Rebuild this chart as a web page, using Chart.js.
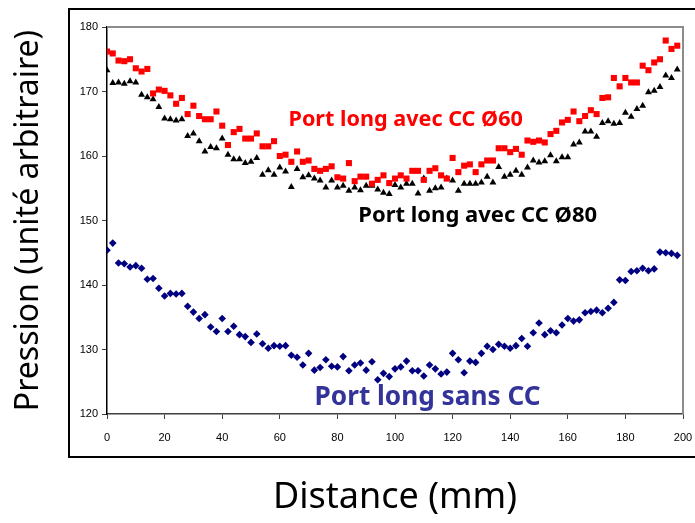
<!DOCTYPE html>
<html>
<head>
<meta charset="utf-8">
<script src="https://cdn.jsdelivr.net/npm/chart.js@4.4.1/dist/chart.umd.min.js"></script>
<style>
  html, body { margin: 0; padding: 0; background: #fff; }
  canvas { display: block; }
</style>
</head>
<body>
<canvas id="pressureChart" width="695" height="523"></canvas>
<script>
// Distance (mm)
const distances = [
  0, 2, 4, 6, 8, 10, 12, 14, 16, 18, 20, 22, 24, 26, 28, 30, 32, 34, 36, 38,
  40, 42, 44, 46, 48, 50, 52, 54, 56, 58, 60, 62, 64, 66, 68, 70, 72, 74, 76, 78,
  80, 82, 84, 86, 88, 90, 92, 94, 96, 98, 100, 102, 104, 106, 108, 110, 112, 114, 116, 118,
  120, 122, 124, 126, 128, 130, 132, 134, 136, 138, 140, 142, 144, 146, 148, 150, 152, 154, 156, 158,
  160, 162, 164, 166, 168, 170, 172, 174, 176, 178, 180, 182, 184, 186, 188, 190, 192, 194, 196, 198
];

// Port long avec CC Ø60
const pressureCC60 = [
  176.2, 175.9, 174.8, 174.7, 175.0, 173.6, 173.1, 173.5, 169.7, 170.3,
  170.1, 169.4, 168.1, 169.0, 166.5, 167.8, 166.2, 165.7, 165.7, 166.9,
  164.7, 161.7, 163.7, 164.2, 162.7, 162.7, 163.5, 161.5, 161.5, 162.3,
  160.0, 160.2, 159.1, 160.7, 159.1, 159.3, 158.0, 157.7, 158.0, 158.4,
  156.7, 156.5, 158.9, 156.1, 156.8, 156.8, 155.7, 156.3, 157.0, 155.8,
  156.5, 157.0, 156.5, 157.7, 157.7, 156.3, 157.7, 158.1, 157.0, 156.5,
  159.7, 157.5, 158.5, 158.7, 157.5, 158.7, 159.3, 159.3, 161.2, 161.2,
  160.6, 161.1, 160.2, 162.4, 162.2, 162.4, 162.1, 163.4, 163.9, 165.2,
  165.6, 166.9, 165.4, 166.2, 167.1, 166.5, 169.0, 169.1, 172.1, 170.8,
  172.1, 171.4, 171.4, 174.0, 173.3, 174.5, 175.0, 177.9, 176.6, 177.1
];

// Port long avec CC Ø80
const pressureCC80 = [
  173.3, 171.3, 171.4, 171.2, 171.6, 171.4, 169.5, 169.1, 168.8, 167.6,
  165.8, 165.7, 165.5, 165.7, 163.1, 163.5, 162.3, 160.7, 161.4, 161.2,
  162.7, 160.2, 159.5, 159.5, 158.9, 159.1, 159.7, 157.1, 157.8, 157.1,
  158.2, 157.6, 155.2, 158.0, 156.7, 157.0, 156.5, 156.2, 155.1, 156.2,
  155.1, 155.4, 154.6, 155.1, 154.7, 155.4, 155.4, 154.8, 154.3, 154.1,
  155.5, 155.1, 155.7, 155.7, 154.2, 156.5, 154.6, 155.0, 155.1, 156.5,
  156.2, 154.6, 155.7, 155.7, 155.7, 155.9, 156.8, 155.9, 158.3, 156.8,
  157.1, 157.7, 157.1, 158.2, 159.3, 159.0, 159.2, 160.1, 159.2, 159.8,
  159.8, 161.8, 162.1, 163.8, 163.8, 163.0, 165.1, 165.4, 165.0, 165.1,
  166.7, 166.1, 167.3, 167.8, 169.9, 170.1, 170.7, 172.5, 172.1, 173.4
];

// Port long sans CC
const pressureSansCC = [
  145.4, 146.5, 143.4, 143.3, 142.8, 143.0, 142.6, 140.9, 141.0, 139.5,
  138.3, 138.7, 138.6, 138.7, 136.7, 135.8, 134.8, 135.4, 133.5, 132.8,
  134.8, 132.8, 133.6, 132.3, 132.0, 131.1, 132.4, 130.9, 130.2, 130.6,
  130.5, 130.6, 129.1, 128.8, 127.6, 129.4, 126.8, 127.2, 128.4, 127.4,
  127.3, 128.9, 126.7, 127.6, 127.9, 126.8, 128.1, 125.3, 126.3, 125.8,
  127.0, 127.3, 128.2, 126.7, 126.7, 125.9, 127.6, 127.0, 126.2, 126.5,
  129.4, 128.4, 126.4, 128.2, 128.0, 129.4, 130.5, 130.0, 130.8, 130.5,
  130.2, 130.6, 131.7, 130.5, 132.6, 134.1, 132.3, 132.9, 132.6, 133.8,
  134.8, 134.4, 134.6, 135.7, 135.9, 136.1, 135.7, 136.4, 137.3, 140.8,
  140.7, 142.1, 142.2, 142.6, 142.2, 142.5, 145.1, 145.0, 144.9, 144.6
];

const xTicks = [0, 20, 40, 60, 80, 100, 120, 140, 160, 180, 200];
const yTicks = [120, 130, 140, 150, 160, 170, 180];

const seriesLabels = ['Port long avec CC Ø60', 'Port long avec CC Ø80', 'Port long sans CC'];

function toPoints(values) {
  return values.map((v, i) => ({ x: distances[i], y: v }));
}

const handFont = "'Comic Sans MS', 'Noto Sans', 'DejaVu Sans', sans-serif";

/**
 * Frame around the plot, grey top/right edge, and in-chart series labels
 */
const decorPlugin = {
  id: 'decor',
  beforeDraw(chart) {
    const ctx = chart.ctx;
    ctx.save();
    ctx.fillStyle = '#fff';
    ctx.fillRect(0, 0, chart.width, chart.height);
    ctx.restore();
  },
  afterDraw(chart) {
    const { ctx, chartArea, scales } = chart;
    ctx.save();

    // grey top & right edges of the plot area
    ctx.strokeStyle = '#8c8c8c';
    ctx.lineWidth = 2;
    ctx.beginPath();
    ctx.moveTo(chartArea.left, chartArea.top);
    ctx.lineTo(chartArea.right, chartArea.top);
    ctx.lineTo(chartArea.right, chartArea.bottom);
    ctx.stroke();

    // outer black frame (right side runs off the picture)
    ctx.strokeStyle = '#000';
    ctx.lineWidth = 2;
    ctx.strokeRect(69, 9, 640, 448);

    // series labels inside the chart
    const labels = [
      { text: seriesLabels[0], color: '#ff0000', x: 103.7, y: 165.6, width: 234, size: 20 },
      { text: seriesLabels[1], color: '#000000', x: 128.7, y: 150.7, width: 239, size: 20 },
      { text: seriesLabels[2], color: '#333399', x: 111.3, y: 122.6, width: 226, size: 24 }
    ];
    ctx.textAlign = 'center';
    ctx.textBaseline = 'middle';
    labels.forEach(l => {
      ctx.font = `bold ${l.size}px ${handFont}`;
      const w = ctx.measureText(l.text).width;
      const size = l.size * l.width / w;
      ctx.font = `bold ${size.toFixed(1)}px ${handFont}`;
      ctx.fillStyle = l.color;
      ctx.fillText(l.text, scales.x.getPixelForValue(l.x), scales.y.getPixelForValue(l.y));
    });

    ctx.restore();
  }
};

Chart.defaults.font.family = "'Liberation Sans', Arial, sans-serif";
Chart.defaults.color = '#000';

const ctx = document.getElementById('pressureChart').getContext('2d');
const pressureChart = new Chart(ctx, {
  type: 'scatter',
  data: {
    datasets: [
      {
        label: seriesLabels[0],
        data: toPoints(pressureCC60),
        pointStyle: 'rect',
        pointRadius: 4.3,
        pointBorderWidth: 0,
        backgroundColor: '#ff0000',
        borderColor: '#ff0000'
      },
      {
        label: seriesLabels[1],
        data: toPoints(pressureCC80),
        pointStyle: 'triangle',
        pointRadius: 4,
        pointBorderWidth: 0,
        backgroundColor: '#000000',
        borderColor: '#000000'
      },
      {
        label: seriesLabels[2],
        data: toPoints(pressureSansCC),
        pointStyle: 'rectRot',
        pointRadius: 3.8,
        pointBorderWidth: 0,
        backgroundColor: '#000080',
        borderColor: '#000080'
      }
    ]
  },
  options: {
    responsive: false,
    animation: false,
    events: [],
    layout: {
      padding: { top: 27, right: 12, bottom: 0, left: 0 }
    },
    plugins: {
      legend: { display: false },
      tooltip: { enabled: false }
    },
    scales: {
      x: {
        type: 'linear',
        min: 0,
        max: 200,
        afterBuildTicks: scale => { scale.ticks = xTicks.map(v => ({ value: v })); },
        afterFit: scale => {
          scale.height = 109;
          scale.paddingLeft = 0;
          scale.paddingRight = 0;
        },
        grid: { drawOnChartArea: false, drawTicks: true, tickLength: 5, color: '#404040' },
        border: { color: '#404040', width: 1.5 },
        ticks: { font: { size: 11 }, padding: 12, maxRotation: 0 },
        title: {
          display: true,
          text: 'Distance (mm)',
          font: { family: handFont, size: 36 },
          padding: { top: 0, bottom: 4 }
        }
      },
      y: {
        type: 'linear',
        min: 120,
        max: 180,
        afterBuildTicks: scale => { scale.ticks = yTicks.map(v => ({ value: v })); },
        afterFit: scale => {
          scale.width = 107;
          scale.paddingTop = 0;
          scale.paddingBottom = 0;
        },
        grid: { drawOnChartArea: false, drawTicks: true, tickLength: 5, color: '#404040' },
        border: { color: '#000', width: 1.5 },
        ticks: { font: { size: 11 }, padding: 4 },
        title: {
          display: true,
          text: 'Pression (unité arbitraire)',
          font: { family: handFont, size: 32 },
          padding: { top: 10, bottom: 0 }
        }
      }
    }
  },
  plugins: [decorPlugin]
});
</script>
</body>
</html>
